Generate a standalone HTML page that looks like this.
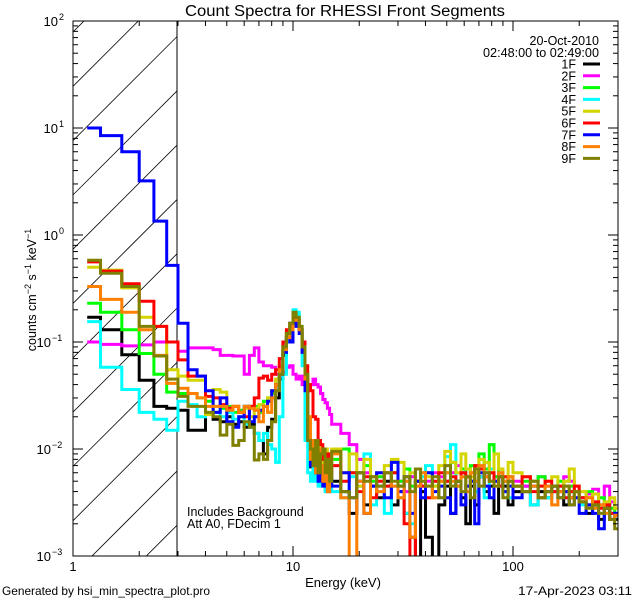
<!DOCTYPE html>
<html><head><meta charset="utf-8"><style>
html,body{margin:0;padding:0;background:#fff;}
svg{display:block;font-family:"Liberation Sans",sans-serif;}
</style></head><body>
<svg id="chart" width="640" height="600" viewBox="0 0 640 600" xmlns="http://www.w3.org/2000/svg">
<defs>
<clipPath id="plotclip"><rect x="73" y="21" width="545" height="535"/></clipPath>
<clipPath id="hatchclip"><rect x="73" y="21" width="104" height="535"/></clipPath>
</defs>
<rect width="640" height="600" fill="#fff"/>
<text x="345" y="16" font-size="15.5" text-anchor="middle" textLength="320" lengthAdjust="spacingAndGlyphs">Count Spectra for RHESSI Front Segments</text>
<g id="hatch" clip-path="url(#hatchclip)" stroke="#000" stroke-width="0.8"></g>
<line x1="177" y1="21" x2="177" y2="556" stroke="#000" stroke-width="1"/>
<g id="series" clip-path="url(#plotclip)" fill="none" stroke-width="3" stroke-linejoin="miter"></g>
<rect x="73" y="21" width="545" height="535" fill="none" stroke="#000" stroke-width="1"/>
<g id="axes" stroke="#000" stroke-width="1"></g>
<g id="labels" font-size="13"></g>
<text transform="translate(36,290) rotate(-90)" font-size="12.5" text-anchor="middle">counts cm<tspan dy="-5" font-size="9">−2</tspan><tspan dy="5"> s</tspan><tspan dy="-5" font-size="9">−1</tspan><tspan dy="5"> keV</tspan><tspan dy="-5" font-size="9">−1</tspan></text>
<text x="343" y="587" font-size="13" text-anchor="middle">Energy (keV)</text>
<text x="599" y="45" font-size="12.5" text-anchor="end">20-Oct-2010</text>
<text x="599" y="57" font-size="12.5" text-anchor="end" textLength="116" lengthAdjust="spacingAndGlyphs">02:48:00 to 02:49:00</text>
<g id="legend" font-size="12.5"></g>
<text x="187" y="516" font-size="12.5">Includes Background</text>
<text x="187" y="528" font-size="12.5">Att A0, FDecim 1</text>
<text x="2" y="595" font-size="12" textLength="208" lengthAdjust="spacingAndGlyphs">Generated by hsi_min_spectra_plot.pro</text>
<text x="632" y="595" font-size="12" text-anchor="end" textLength="114" lengthAdjust="spacingAndGlyphs">17-Apr-2023 03:11</text>
</svg>
<script>
const energyEdges = [1.16,1.333,1.667,2,2.333,2.667,3,3.333,3.667,4,4.333,4.667,5,5.333,5.667,6,6.333,6.667,7,7.333,7.667,8,8.333,8.667,9,9.333,9.667,10,10.333,10.667,11,11.333,11.667,12,12.333,12.667,13,13.333,13.667,14,14.333,14.667,15,
16.5,18,19.5,21,22.5,24,26,28,30,32,34,36,38,40,43,46,49,52,55,58,61,64,67,70,74,78,82,86,90,95,100,110,120,130,140,150,160,170,180,190,200,215,230,245,260,275,290,300];
const seriesNames = ["1F","2F","3F","4F","5F","6F","7F","8F","9F"];
const seriesColors = ["#000000","#ff00ff","#00ff00","#00ffff","#d4d400","#ff0000","#0000ff","#ff8000","#808000"];
const s1F = [0.17,0.13,0.076,0.044,0.025,0.024,0.023,0.015,0.015,0.021,0.019,0.018,0.020,0.017,0.018,0.016,0.017,0.014,0.012,0.009,0.016,0.019,0.03,0.045,0.075,0.11,0.14,0.16,0.17,0.13,0.09,0.045,0.012,0.0068,0.008,0.006,0.0075,0.005,0.0065,0.0055,0.007,0.006,
0.005,0.004,0.0025,0.006,0.003,0.0045,0.0035,0.005,0.003,0.0045,0.0025,0.0015,0.0008,0.004,0.0015,0.0008,0.003,0.0045,0.0025,0.005,0.0035,0.002,0.0045,0.003,0.0055,0.004,0.0045,0.0025,0.0055,0.0045,0.003,0.004,0.0045,0.003,0.004,0.0035,0.0045,0.004,0.003,0.0035,0.004,0.0032,0.0025,0.003,0.0022,0.0028,0.0025,0.0022];
const s2F = [0.1,0.095,0.092,0.094,0.1,0.1,0.082,0.088,0.088,0.088,0.085,0.075,0.075,0.074,0.074,0.05,0.075,0.088,0.065,0.06,0.06,0.058,0.05,0.048,0.052,0.058,0.06,0.05,0.045,0.048,0.04,0.041,0.038,0.04,0.045,0.04,0.038,0.033,0.029,0.027,0.024,0.021,
0.017,0.014,0.011,0.008,0.006,0.005,0.0045,0.006,0.0045,0.005,0.004,0.0055,0.005,0.0045,0.005,0.006,0.0055,0.005,0.006,0.007,0.006,0.0055,0.006,0.0065,0.0055,0.006,0.005,0.0055,0.006,0.005,0.0055,0.005,0.0045,0.005,0.0055,0.0045,0.004,0.0045,0.0055,0.005,0.004,0.0035,0.0038,0.0042,0.003,0.0045,0.0032,0.0028];
const s3F = [0.23,0.19,0.13,0.078,0.05,0.034,0.033,0.033,0.03,0.028,0.022,0.024,0.025,0.022,0.023,0.025,0.024,0.025,0.022,0.028,0.03,0.033,0.04,0.06,0.09,0.12,0.15,0.18,0.18,0.14,0.09,0.05,0.015,0.008,0.011,0.009,0.01,0.008,0.007,0.009,0.006,0.007,
0.008,0.01,0.006,0.0045,0.007,0.005,0.0055,0.0045,0.006,0.005,0.0065,0.0045,0.005,0.0055,0.006,0.0045,0.005,0.006,0.0075,0.005,0.0065,0.0055,0.007,0.005,0.009,0.0065,0.011,0.0055,0.0065,0.005,0.0055,0.0045,0.005,0.0045,0.0055,0.004,0.0045,0.005,0.004,0.0045,0.004,0.0035,0.004,0.0032,0.0035,0.003,0.0028,0.0025];
const s4F = [0.155,0.058,0.036,0.022,0.019,0.015,0.028,0.026,0.02,0.021,0.022,0.02,0.022,0.019,0.02,0.017,0.016,0.014,0.012,0.014,0.011,0.01,0.0075,0.02,0.05,0.1,0.15,0.2,0.19,0.13,0.06,0.012,0.006,0.005,0.007,0.005,0.0045,0.006,0.005,0.004,0.006,0.005,
0.004,0.0035,0.0055,0.0045,0.009,0.003,0.0045,0.0025,0.0045,0.0035,0.0025,0.002,0.0045,0.0055,0.007,0.005,0.0035,0.0085,0.011,0.0045,0.006,0.0045,0.005,0.004,0.0055,0.0035,0.0065,0.005,0.0045,0.004,0.0035,0.0045,0.004,0.003,0.0045,0.0035,0.004,0.0045,0.0035,0.004,0.0035,0.003,0.0035,0.0028,0.003,0.0025,0.0022,0.0025];
const s5F = [0.5,0.47,0.32,0.17,0.14,0.055,0.048,0.044,0.044,0.021,0.036,0.034,0.024,0.025,0.022,0.024,0.02,0.024,0.026,0.025,0.03,0.035,0.045,0.06,0.09,0.12,0.14,0.16,0.16,0.13,0.08,0.04,0.02,0.009,0.011,0.008,0.012,0.009,0.007,0.01,0.008,0.006,
0.01,0.006,0.009,0.0045,0.008,0.0055,0.006,0.007,0.008,0.0075,0.005,0.006,0.0045,0.006,0.0055,0.0045,0.007,0.0095,0.0075,0.006,0.009,0.0065,0.0055,0.006,0.008,0.0075,0.006,0.009,0.0065,0.0055,0.0075,0.006,0.0055,0.005,0.0045,0.005,0.0055,0.0045,0.005,0.0065,0.0045,0.004,0.0035,0.0038,0.003,0.0032,0.0035,0.0028];
const s6F = [0.56,0.46,0.35,0.24,0.14,0.1,0.068,0.048,0.048,0.031,0.03,0.026,0.024,0.025,0.022,0.02,0.025,0.03,0.046,0.048,0.044,0.05,0.055,0.07,0.1,0.13,0.15,0.17,0.16,0.13,0.1,0.06,0.04,0.035,0.02,0.019,0.012,0.011,0.008,0.007,0.009,0.006,
0.007,0.005,0.006,0.004,0.0055,0.0035,0.005,0.0045,0.006,0.004,0.002,0.0008,0.005,0.0045,0.0035,0.005,0.006,0.005,0.0055,0.0045,0.006,0.0055,0.005,0.007,0.0065,0.0055,0.006,0.005,0.0045,0.0055,0.005,0.0045,0.0055,0.004,0.0045,0.005,0.004,0.0045,0.0035,0.004,0.0045,0.0035,0.003,0.0032,0.0028,0.003,0.0025,0.0024];
const s7F = [10,8.5,6,3.2,1.35,0.52,0.15,0.055,0.048,0.035,0.022,0.03,0.018,0.016,0.02,0.025,0.018,0.02,0.023,0.025,0.028,0.035,0.04,0.05,0.08,0.11,0.1,0.15,0.14,0.12,0.08,0.035,0.012,0.007,0.009,0.006,0.005,0.007,0.0045,0.006,0.004,0.005,
0.0045,0.006,0.0035,0.005,0.0025,0.0045,0.006,0.0035,0.0075,0.004,0.0055,0.0025,0.005,0.0035,0.006,0.004,0.0045,0.0035,0.0025,0.005,0.003,0.0045,0.005,0.002,0.006,0.0045,0.0035,0.005,0.0055,0.004,0.0045,0.0035,0.004,0.0045,0.0035,0.004,0.0045,0.0035,0.004,0.003,0.0035,0.0025,0.003,0.0025,0.0018,0.0028,0.0022,0.0025];
const s8F = [0.33,0.25,0.19,0.13,0.075,0.041,0.037,0.033,0.03,0.025,0.025,0.025,0.023,0.025,0.022,0.025,0.024,0.023,0.018,0.025,0.022,0.03,0.04,0.055,0.085,0.11,0.13,0.16,0.16,0.13,0.09,0.045,0.02,0.008,0.012,0.006,0.01,0.007,0.005,0.008,0.004,0.007,
0.009,0.0035,0.0008,0.005,0.0025,0.0055,0.004,0.006,0.0045,0.0035,0.005,0.0015,0.0045,0.006,0.0045,0.0035,0.005,0.006,0.005,0.0045,0.0055,0.004,0.006,0.005,0.007,0.0055,0.005,0.0045,0.006,0.005,0.0055,0.0045,0.004,0.0045,0.0035,0.0045,0.003,0.004,0.0045,0.0035,0.004,0.0032,0.0035,0.0028,0.003,0.0025,0.0022,0.0024];
const s9F = [0.58,0.44,0.33,0.14,0.074,0.045,0.031,0.025,0.025,0.022,0.02,0.0135,0.017,0.0108,0.012,0.018,0.016,0.0079,0.009,0.008,0.012,0.018,0.035,0.05,0.09,0.12,0.15,0.19,0.17,0.14,0.09,0.05,0.012,0.01,0.007,0.012,0.006,0.009,0.01,0.006,0.008,0.005,
0.0095,0.004,0.0035,0.006,0.005,0.0055,0.0045,0.006,0.005,0.0045,0.0055,0.004,0.0065,0.005,0.0045,0.0055,0.0035,0.007,0.0045,0.005,0.004,0.0055,0.0035,0.0065,0.0045,0.006,0.005,0.0045,0.0055,0.0035,0.005,0.0045,0.004,0.005,0.0035,0.004,0.0045,0.0035,0.0045,0.003,0.004,0.0032,0.0028,0.003,0.0025,0.0028,0.0022,0.0018];
const seriesValues = [s1F,s2F,s3F,s4F,s5F,s6F,s7F,s8F,s9F];
const yTickExps = [2,1,0,-1,-2,-3];
const xTickLabels = ["1","10","100"];
const xTickValues = [1,10,100];

const NS = "http://www.w3.org/2000/svg";
const L = 73, R = 618, T = 21, B = 556;
const DX = 220, DY = 107;
function xS(e){ return L + DX*Math.log10(e); }
function yS(v){ return T + DY*(2 - Math.log10(Math.max(v,1e-4))); }
function mk(tag, attrs, parent){ const el=document.createElementNS(NS,tag); for(const k in attrs) el.setAttribute(k,attrs[k]); parent.appendChild(el); return el; }

const hatch = document.getElementById('hatch');
for(let c=32; c<B+110; c+=54.3){
  const ln = mk('line',{x1:L,y1:c,x2:177,y2:c-104},hatch);
  
  
}

const sg = document.getElementById('series');
seriesValues.forEach((vals,si)=>{
  let d = "M"+xS(energyEdges[0]).toFixed(1)+" "+yS(vals[0]).toFixed(1);
  for(let i=0;i<vals.length;i++){
    if(i>0) d += "V"+yS(vals[i]).toFixed(1);
    d += "H"+xS(energyEdges[i+1]).toFixed(1);
  }
  const p = mk('path',{d:d,stroke:seriesColors[si]},sg);
  
  
});

const ax = document.getElementById('axes');
const lab = document.getElementById('labels');
for(let dec=0; dec<3; dec++){
  for(let m=1;m<10;m++){
    const e = m*Math.pow(10,dec);
    const x = xS(e);
    if(x>R-0.5) continue;
    const len = m===1?10:5;
    const t1 = mk('line',{x1:x,y1:B,x2:x,y2:B-len},ax);
    
    
    const t2 = mk('line',{x1:x,y1:T,x2:x,y2:T+len},ax);
    
    
  }
}
xTickValues.forEach((v,i)=>{
  const t = mk('text',{x:xS(v),y:571,'text-anchor':'middle'},lab);
  t.textContent = xTickLabels[i];
  
  
});
for(let ex=-3; ex<2; ex++){
  for(let m=1;m<10;m++){
    const v = m*Math.pow(10,ex);
    const y = yS(v);
    const len = m===1?10:5;
    const t1 = mk('line',{x1:L,y1:y,x2:L+len,y2:y},ax);
    
    
    const t2 = mk('line',{x1:R,y1:y,x2:R-len,y2:y},ax);
    
    
  }
}
yTickExps.forEach(ex=>{
  const y = yS(Math.pow(10,ex));
  const t = mk('text',{x:ex<0?51:58,y:y+5,'text-anchor':'end','font-size':'13'},lab);
  t.textContent = "10";
  
  
  const s = mk('text',{x:ex<0?52:59,y:y-1,'font-size':'9'},lab);
  s.textContent = ex<0 ? "−"+(-ex) : String(ex);
  
  
});

const lg = document.getElementById('legend');
seriesNames.forEach((n,i)=>{
  const y = 64 + i*11.8;
  const t = mk('text',{x:576,y:y+4.5,'text-anchor':'end'},lg);
  t.textContent = n;
  
  
  const l = mk('line',{x1:583,y1:y,x2:600,y2:y,stroke:seriesColors[i],'stroke-width':3},lg);
  
  
});
</script>
</body></html>
